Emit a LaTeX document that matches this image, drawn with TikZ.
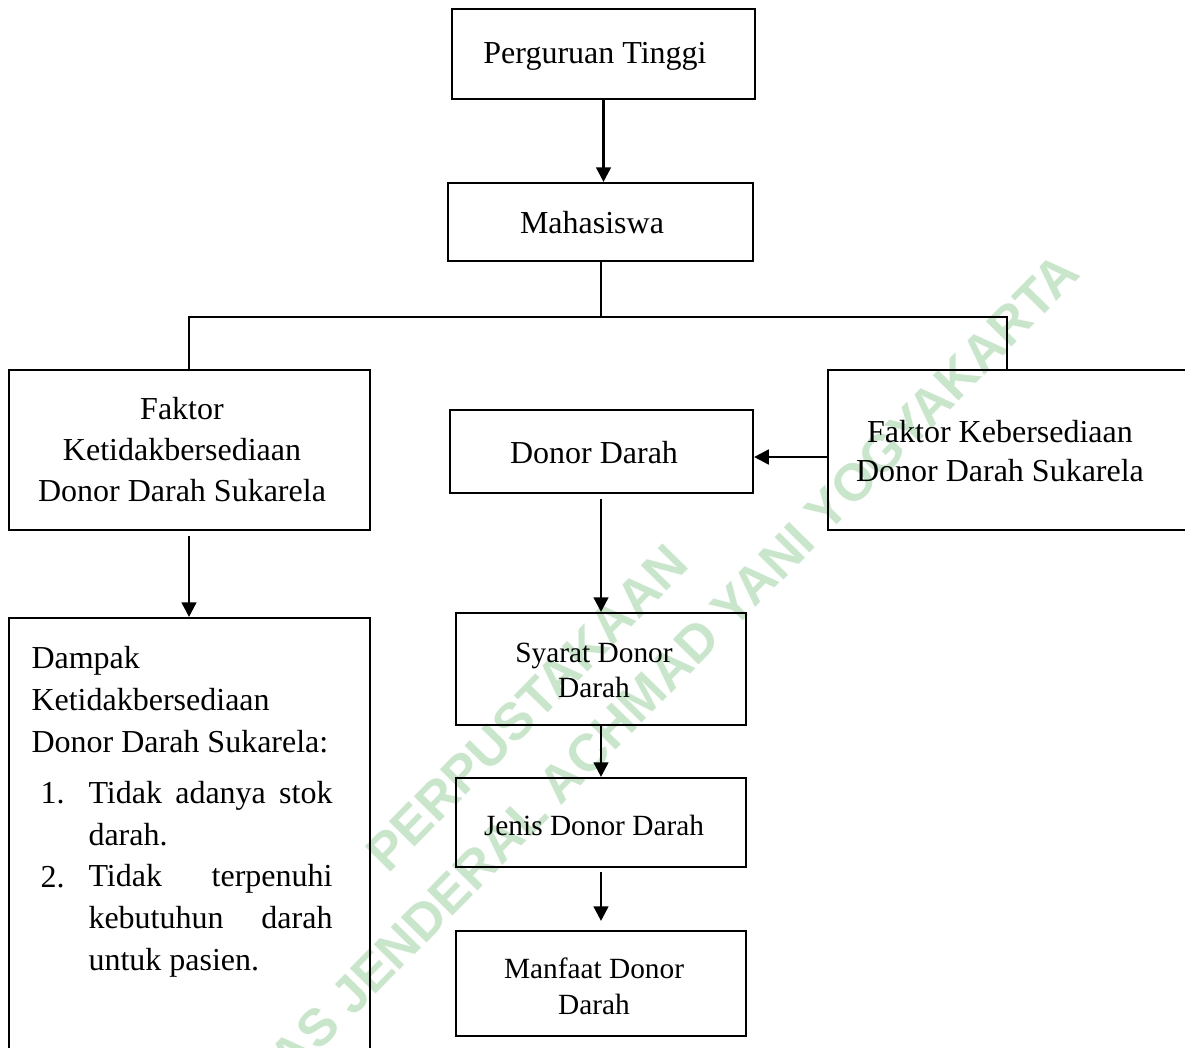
\documentclass[tikz,border=0pt]{standalone}
\usepackage{fontspec}
\setmainfont{Liberation Serif}
\newfontfamily\wmfont{Liberation Sans}
\usetikzlibrary{arrows.meta,fit,calc}
\definecolor{wm}{RGB}{200,230,202}
\begin{document}
\begin{tikzpicture}[x=0.375pt,y=-0.375pt,
  box/.style={draw, line width=0.8pt, inner sep=0pt, rectangle},
  big/.style={font=\fontsize{12}{15.2}\selectfont, align=center, anchor=base, inner sep=0pt},
  small/.style={font=\fontsize{11}{13.2}\selectfont, align=center, anchor=base, inner sep=0pt},
  lefttxt/.style={font=\fontsize{12}{15.7}\selectfont, align=left, anchor=base west, inner sep=0pt},
  conn/.style={line width=1pt},
  arr/.style={line width=1pt, -{Triangle[length=5.5pt,width=5.5pt]}},
  wmark/.style={font=\wmfont\bfseries\fontsize{19.6}{24}\selectfont, text=wm, inner sep=0pt, rotate=45.5}]
\useasboundingbox (0,0) rectangle (1185,1047);
% watermark
\node[wmark] (wm1) at (578,763) {UNIVERSITAS JENDERAL ACHMAD YANI YOGYAKARTA};
\node[wmark] (wm2) at (527,708) {PERPUSTAKAAN};
% boxes
\node[box, fit={(452,9) (755,99)}] (pt) {};
\node[box, fit={(448,183) (753,261)}] (mh) {};
\node[box, fit={(9,370) (370,530)}] (lf) {};
\node[box, fit={(828,370) (1200,530)}] (rf) {};
\node[box, fit={(450,410) (753,493)}] (dd) {};
\node[box, fit={(9,618) (370,1060)}] (dp) {};
\node[box, fit={(456,613) (746,725)}] (sy) {};
\node[box, fit={(456,778) (746,867)}] (jn) {};
\node[box, fit={(456,931) (746,1036)}] (mf) {};
% texts (multi-line nodes: base = baseline of the last line)
\node[big] (ptT) at (595,63) {Perguruan Tinggi};
\node[big] (mhT) at (592,233) {Mahasiswa};
\node[big, font=\fontsize{12}{15.2}\selectfont] (lfT) at (182,501) {Faktor\\Ketidakbersediaan\\Donor Darah Sukarela};
\node[big] (ddT) at (594,463) {Donor Darah};
\node[big, font=\fontsize{12}{14.6}\selectfont] (rfT) at (1000,481) {Faktor Kebersediaan\\Donor Darah Sukarela};
\node[small, font=\fontsize{11}{13.1}\selectfont] (syT) at (594,697) {Syarat Donor\\Darah};
\node[small] (jnT) at (594,835) {Jenis Donor Darah};
\node[small, font=\fontsize{11}{13.5}\selectfont] (mfT) at (594,1014) {Manfaat Donor\\Darah};
\node[lefttxt] (dpT) at (31,752) {Dampak\\Ketidakbersediaan\\Donor Darah Sukarela:};
\node[lefttxt] (dp1n) at (40,803) {1.};
\node[lefttxt] (dp1) at (88,845) {\makebox[91.5pt][s]{Tidak adanya stok}\\darah.};
\node[lefttxt] (dp2n) at (40,887) {2.};
\node[lefttxt, font=\fontsize{12}{15.6}\selectfont] (dp2) at (88,970) {\makebox[91.5pt][s]{Tidak terpenuhi}\\\makebox[91.5pt][s]{kebutuhun darah}\\untuk pasien.};
% connectors
\coordinate (jc) at (601,317);
\coordinate (jl) at (189,317);
\coordinate (jr) at (1007,317);
\coordinate (ay) at (0,457);
\draw[arr] (pt.south) -- (pt.south |- mh.north);
\draw[conn] (mh.south -| jc) -- (jc);
\draw[conn] (lf.north -| jl) -- (jl) -- (jr) -- (rf.north -| jr);
\draw[arr] ($(lf.south -| jl)+(0,5)$) -- (dp.north -| jl);
\draw[arr] (rf.west |- ay) -- (dd.east |- ay);
\draw[arr] ($(dd.south -| sy.north)+(0,5)$) -- (sy.north);
\draw[arr] (sy.south) -- (jn.north);
\draw[arr] ($(jn.south)+(0,4)$) -- ($(mf.north)+(0,-9)$);
\end{tikzpicture}
\end{document}
